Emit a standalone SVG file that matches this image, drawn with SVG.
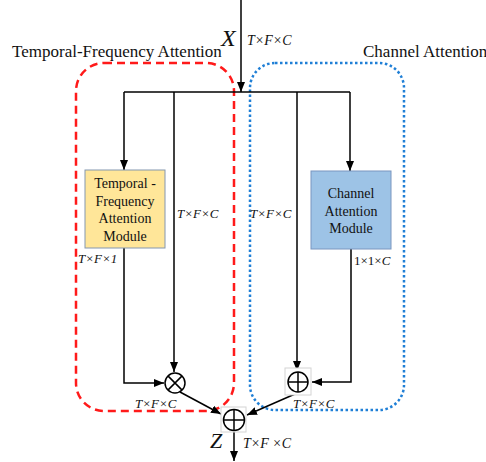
<svg xmlns="http://www.w3.org/2000/svg" width="486" height="462" viewBox="0 0 486 462">
<style>
.t{font-family:"Liberation Serif","Times New Roman",serif;fill:#111}
.i{font-style:italic}
.ln{stroke:#000;stroke-width:1.5;fill:none}
.op{fill:#fff;stroke:#000;stroke-width:1.5}
.gs{fill:#fff;stroke:#d4d4d4;stroke-width:1}
</style>
<defs>
<marker id="ar" markerUnits="userSpaceOnUse" markerWidth="10" markerHeight="8" refX="10" refY="4" orient="auto">
<path d="M0,0 L10,4 L0,8 z" fill="#000"/>
</marker>
</defs>
<rect width="486" height="462" fill="#fff"/>
<g id="groups">
<rect x="76" y="63" width="158" height="348" rx="28" fill="none" stroke="#ff1a1a" stroke-width="2.5" stroke-dasharray="8,5"/>
<rect x="250" y="63" width="154" height="347" rx="25" fill="none" stroke="#1f7fd6" stroke-width="2.5" stroke-dasharray="2.5,2.5"/>
<text class="t" x="12" y="57" font-size="17">Temporal-Frequency Attention</text>
<text class="t" x="363" y="57" font-size="17">Channel Attention</text>
</g>
<g id="connectors">
<path class="ln" d="M241,0 V92" marker-end="url(#ar)"/>
<path class="ln" d="M124,92 H350"/>
<path class="ln" d="M124,92 V170" marker-end="url(#ar)"/>
<path class="ln" d="M174,92 V372" marker-end="url(#ar)"/>
<path class="ln" d="M297,92 V371" marker-end="url(#ar)"/>
<path class="ln" d="M350,92 V171" marker-end="url(#ar)"/>
<path class="ln" d="M124,248 V383 H164" marker-end="url(#ar)"/>
<path class="ln" d="M351,249 V382 H312" marker-end="url(#ar)"/>
<path class="ln" d="M180,392 L221,414" marker-end="url(#ar)"/>
<path class="ln" d="M295,394 L247,415" marker-end="url(#ar)"/>
<path class="ln" d="M234,432 V461" marker-end="url(#ar)"/>
</g>
<g id="input">
<text class="t i" x="221" y="46" font-size="24">X</text>
<text class="t i" x="247" y="45" font-size="14">T×F×C</text>
</g>
<g id="tf-module">
<rect x="85" y="170" width="80" height="78" fill="#ffe699" stroke="#8497b0" stroke-width="1"/>
<text class="t" font-size="14" text-anchor="middle"><tspan x="125" y="188">Temporal -</tspan><tspan x="125" y="206">Frequency</tspan><tspan x="125" y="223">Attention</tspan><tspan x="125" y="241">Module</tspan></text>
</g>
<g id="ch-module">
<rect x="311" y="171" width="80" height="78" fill="#9dc3e6" stroke="#7a96c0" stroke-width="1"/>
<text class="t" font-size="14" text-anchor="middle"><tspan x="351" y="198">Channel</tspan><tspan x="351" y="216">Attention</tspan><tspan x="351" y="233">Module</tspan></text>
</g>
<g id="labels">
<text class="t i" x="177" y="218" font-size="13">T×F×C</text>
<text class="t i" x="250" y="218" font-size="13">T×F×C</text>
<text class="t i" x="78" y="263" font-size="13">T×F×1</text>
<text class="t" x="354" y="265" font-size="13">1×1×<tspan class="i">C</tspan></text>
<text class="t i" x="135" y="408" font-size="13">T×F×C</text>
<text class="t i" x="293" y="408" font-size="13">T×F×C</text>
</g>
<g id="mul">
<circle class="op" cx="175" cy="383" r="10"/>
<path class="ln" d="M167.9,375.9 L182.1,390.1 M182.1,375.9 L167.9,390.1"/>
</g>
<g id="add-ch">
<rect class="gs" x="285" y="368" width="26" height="27"/>
<circle class="op" cx="298" cy="382" r="10"/>
<path class="ln" d="M288,382 H308 M298,372 V392"/>
</g>
<g id="add-out">
<rect class="gs" x="221" y="407" width="25" height="25"/>
<circle class="op" cx="234" cy="420" r="10.5"/>
<path class="ln" d="M223.5,420 H244.5 M234,409.5 V430.5"/>
</g>
<g id="output">
<text class="t i" x="210" y="448" font-size="22">Z</text>
<text class="t i" x="243" y="448" font-size="14">T×F ×C</text>
</g>
</svg>
